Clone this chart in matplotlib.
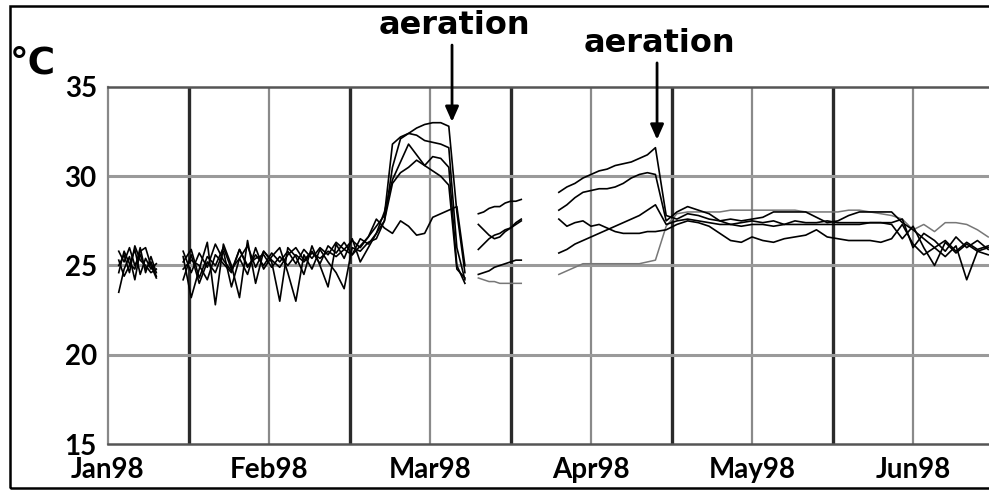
import numpy as np
import matplotlib
matplotlib.use("Agg")
import matplotlib.pyplot as plt
from matplotlib.patches import Rectangle

# days since 1 Jan 98, every month drawn as 30 days wide
months = ["Jan98", "Feb98", "Mar98", "Apr98", "May98", "Jun98"]
month_days = [0, 30, 60, 90, 120, 150]
mid_days = [15, 45, 75, 105, 135]
y_ticks = [15, 20, 25, 30, 35]

nan = np.nan

days_jan = [2, 3, 4, 5, 6, 7, 8, 9]
days_feb = [14, 15.5, 17, 18.5, 20, 21.5, 23, 24.5, 26, 27.5, 29, 30.5, 32, 33.5,
	35, 36.5, 38, 39.5, 41, 42.5, 44, 45.5, 47, 48.5, 50, 51.5, 53, 54.5,
	56, 57.5, 59, 60.5, 62, 63.5, 65, 66.5]
days_mar = [69, 70, 71, 72, 73, 74, 75, 76, 77]
days_apr = [84, 85.5, 87, 88.5, 90, 91.5, 93, 94.5, 96, 97.5, 99, 100.5, 102,
	104, 106, 108, 110, 112, 114, 116, 118, 120, 122, 124, 126, 128, 130,
	132, 134, 136, 138, 140, 142, 144, 146, 148, 150, 152, 154, 156, 158,
	160, 162, 164]

# nan between the pieces where the loggers were off
days = days_jan + [11] + days_feb + [68] + days_mar + [80] + days_apr

probe_1 = ([25.8, 25.2, 26.0, 25.0, 25.6, 24.8, 25.2, 24.4] + [nan] +
	[25.8, 24.6, 25.7, 24.9, 26.2, 25.3, 24.7, 25.9, 24.9, 25.6, 25.0, 25.7,
	25.2, 25.8, 25.1, 25.9, 25.4, 26.0, 25.6, 26.3, 25.9, 26.4, 26.0, 26.6,
	27.2, 27.8, 31.8, 32.2, 32.4, 32.7, 32.9, 33.0, 33.0, 32.8, 28.0, 24.6] + [nan] +
	[27.9, 28.0, 28.2, 28.3, 28.3, 28.5, 28.6, 28.6, 28.7] + [nan] +
	[29.1, 29.4, 29.6, 29.9, 30.1, 30.3, 30.4, 30.6, 30.7, 30.8, 31.0, 31.2, 31.6,
	27.8, 27.6, 27.9, 27.8, 27.6, 27.5, 27.6, 27.5, 27.6, 27.7, 28.0, 28.0,
	28.0, 28.0, 27.7, 27.4, 27.5, 27.8, 28.0, 28.0, 28.0, 28.0, 27.4, 27.0,
	26.5, 26.0, 26.4, 25.8, 26.3, 25.9, 26.1])

probe_2 = ([25.0, 25.6, 24.6, 26.1, 25.3, 25.0, 24.6, 24.8] + [nan] +
	[25.2, 25.9, 24.3, 25.5, 25.0, 26.0, 24.8, 25.4, 26.1, 24.9, 25.8, 25.3,
	24.9, 25.6, 26.0, 25.3, 25.8, 25.1, 26.1, 25.7, 26.3, 25.6, 26.5, 26.2,
	26.8, 27.5, 30.5, 32.1, 32.4, 32.3, 32.0, 31.9, 31.8, 31.6, 26.0, 24.2] + [nan] +
	[27.3, 27.0, 26.7, 26.5, 26.6, 26.9, 27.1, 27.4, 27.6] + [nan] +
	[28.1, 28.4, 28.8, 29.1, 29.2, 29.3, 29.3, 29.4, 29.6, 29.9, 30.1, 30.2, 30.1,
	27.5, 28.0, 28.3, 28.1, 27.9, 27.5, 27.3, 27.4, 27.5, 27.4, 27.5, 27.3,
	27.5, 27.4, 27.4, 27.5, 27.4, 27.4, 27.4, 27.4, 27.4, 27.3, 26.5, 27.2,
	26.0, 25.0, 26.3, 25.7, 26.2, 25.8, 26.0])

probe_3 = ([23.5, 24.8, 25.5, 24.2, 25.8, 26.0, 25.0, 24.3] + [nan] +
	[25.5, 23.2, 24.8, 26.3, 22.8, 26.2, 25.0, 23.2, 26.4, 24.0, 25.8, 25.2,
	23.0, 26.0, 25.5, 24.5, 26.1, 25.0, 23.8, 26.2, 25.4, 26.5, 25.2, 26.0,
	26.8, 28.0, 29.8, 30.8, 31.8, 31.2, 30.6, 31.1, 31.0, 30.5, 25.0, 24.0] + [nan] +
	[25.9, 26.2, 26.5, 26.7, 26.8, 27.0, 27.1, 27.3, 27.5] + [nan] +
	[27.6, 27.2, 27.4, 27.5, 27.2, 27.3, 27.1, 26.9, 26.8, 26.8, 26.8, 26.9, 26.9,
	27.0, 27.3, 27.5, 27.4, 27.2, 26.8, 26.4, 26.3, 26.6, 26.4, 26.3, 26.5,
	26.6, 26.7, 27.0, 26.6, 26.5, 26.4, 26.4, 26.4, 26.3, 26.5, 27.3, 26.2,
	25.6, 26.0, 25.5, 26.1, 24.2, 25.8, 25.6])

probe_4 = ([25.3, 24.4, 25.0, 25.9, 24.5, 25.4, 24.8, 25.1] + [nan] +
	[24.2, 25.6, 24.0, 25.2, 24.6, 25.8, 23.8, 25.4, 24.5, 26.0, 24.8, 25.5,
	26.0, 24.6, 23.0, 25.6, 24.8, 25.9, 25.2, 24.6, 23.7, 26.0, 25.8, 26.3,
	26.5, 27.5, 29.6, 30.2, 30.5, 30.9, 30.6, 30.3, 30.0, 29.5, 24.8, 24.3] + [nan] +
	[24.5, 24.6, 24.7, 24.9, 25.0, 25.1, 25.2, 25.3, 25.3] + [nan] +
	[25.7, 25.9, 26.2, 26.4, 26.6, 26.8, 27.0, 27.2, 27.4, 27.6, 27.8, 28.1, 28.4,
	27.3, 27.5, 27.6, 27.5, 27.4, 27.3, 27.3, 27.2, 27.3, 27.3, 27.2, 27.3,
	27.3, 27.3, 27.3, 27.3, 27.3, 27.3, 27.3, 27.4, 27.4, 27.4, 27.6, 26.0,
	26.8, 26.4, 25.8, 26.6, 26.0, 26.4, 25.9])

probe_5 = ([24.6, 25.8, 25.1, 24.8, 26.0, 24.6, 25.5, 24.6] + [nan] +
	[24.8, 25.3, 25.0, 24.2, 25.6, 25.1, 24.6, 25.9, 25.0, 25.4, 25.6, 24.9,
	25.5, 25.0, 25.6, 25.2, 25.7, 25.4, 25.8, 25.5, 25.9, 25.6, 26.1, 26.6,
	27.6, 27.1, 26.8, 27.5, 27.2, 26.7, 26.8, 27.7, 27.9, 28.1, 28.3, 25.0] + [nan] +
	[24.3, 24.2, 24.1, 24.1, 24.0, 24.0, 24.0, 24.0, 24.0] + [nan] +
	[24.5, 24.7, 24.9, 25.1, 25.1, 25.1, 25.1, 25.1, 25.1, 25.1, 25.1, 25.2, 25.3,
	27.2, 27.9, 28.0, 28.0, 28.0, 28.0, 28.1, 28.1, 28.1, 28.1, 28.1, 28.1,
	28.1, 28.0, 28.0, 28.0, 28.0, 28.1, 28.1, 28.0, 27.9, 27.8, 27.6, 27.0,
	27.3, 26.9, 27.4, 27.4, 27.3, 27.0, 26.6])

probes = [probe_1, probe_2, probe_3, probe_4, probe_5]
# probe 5 prints grey after the first aeration
grey_after = [None, None, None, None, 67]

# aeration events: (day, arrow tip temp, arrow tail temp, label temp)
aeration_days = [64.1, 102.3]
aeration_tip = [33.05, 32.05]
aeration_tail = [37.35, 36.35]
aeration_label = [38.42, 37.45]


fig = plt.figure(figsize=(9.89, 4.90), dpi=100)
ax = fig.add_axes([108 / 989, 46 / 490, 881 / 989, 357 / 490])

for d in mid_days:
	ax.axvline(d, color="#2a2a2a", lw=2.4, zorder=1)
for d in month_days[1:]:
	ax.axvline(d, color="#8a8a8a", lw=1.6, zorder=1)
for t in y_ticks[1:-1]:
	ax.axhline(t, color="#9a9a9a", lw=2.2, zorder=1)

x = np.array(days)
for vals, cut in zip(probes, grey_after):
	y = np.array(vals)
	if cut is None:
		ax.plot(x, y, color="black", lw=1.2, zorder=3)
	else:
		ax.plot(x[x < cut], y[x < cut], color="black", lw=1.2, zorder=3)
		ax.plot(x[x > cut], y[x > cut], color="#777777", lw=1.1, zorder=2)

ax.set_xlim(0, 881 / 5.367)
ax.set_ylim(15, 35)
ax.set_xticks(month_days)
ax.set_xticklabels(months)
ax.set_yticks(y_ticks)
ax.tick_params(length=0, labelsize=20)
ax.tick_params(axis="x", pad=9)
ax.tick_params(axis="y", pad=8)
for lab in ax.get_xticklabels() + ax.get_yticklabels():
	lab.set_fontfamily("Lato")
	lab.set_fontweight("bold")

for side in ["top", "bottom"]:
	ax.spines[side].set_color("#555555")
	ax.spines[side].set_linewidth(1.8)
ax.spines["left"].set_color("#888888")
ax.spines["left"].set_linewidth(1.6)
ax.spines["right"].set_visible(False)

for d, tip, tail, lab in zip(aeration_days, aeration_tip, aeration_tail, aeration_label):
	ax.annotate("", xy=(d, tip), xytext=(d, tail), annotation_clip=False,
		arrowprops=dict(arrowstyle="-|>,head_width=0.4,head_length=0.9",
			color="black", lw=2.0, shrinkA=0, shrinkB=0))
	ax.text(d + 0.4, lab, "aeration", ha="center", va="center", fontsize=23,
		fontweight="bold", family="DejaVu Sans", clip_on=False)

fig.text(10 / 989, 1 - 63 / 490, "°C", ha="left", va="center", fontsize=27,
	fontweight="heavy", family="DejaVu Sans")

# frame round the whole figure
fig.patches.append(Rectangle((9.5 / 989, 2.5 / 490), 1.2, 481 / 490,
	transform=fig.transFigure, fill=False, edgecolor="black", lw=1.8))

plt.savefig("out.png", dpi=100)
